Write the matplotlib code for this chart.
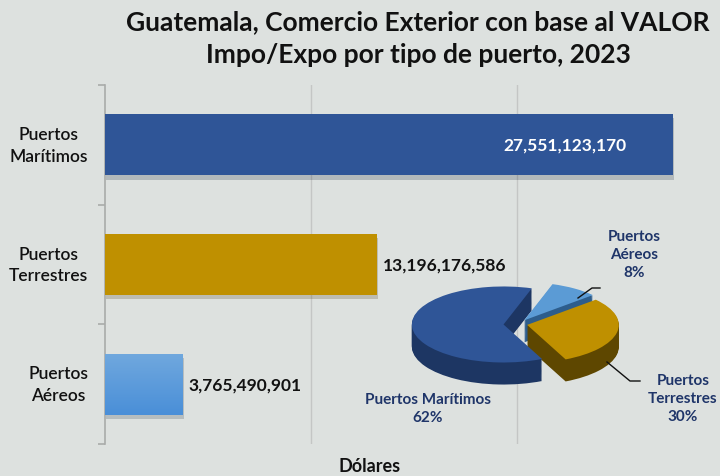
import numpy as np
import matplotlib
matplotlib.use("Agg")
import matplotlib.pyplot as plt
import matplotlib.patheffects as pe
from matplotlib.colors import LinearSegmentedColormap
from matplotlib.transforms import blended_transform_factory

# data
categorias = ["Puertos\nMarítimos", "Puertos\nTerrestres", "Puertos\nAéreos"]
valores = [27551123170, 13196176586, 3765490901]
pie_nombres = ["Puertos\nAéreos", "Puertos\nTerrestres", "Puertos Marítimos"]
pie_valores = [3765490901, 13196176586, 27551123170]

bg = "#dde1df"
col_bar = ["#2f5597", "#bf9000", "#5b9bd5"]
col_pie = ["#5b9bd5", "#bf9000", "#2f5597"]
col_side = ["#2d5d8c", "#5e4700", "#1d3663"]
navy = "#1f3569"

plt.rcParams["font.family"] = ["Lato", "DejaVu Sans"]

W, H = 720, 477
fig = plt.figure(figsize=(7.2, 4.77), dpi=100, facecolor=bg)

def px(x0, y0, x1, y1):
    return [x0 / W, 1 - y1 / H, (x1 - x0) / W, (y1 - y0) / H]

ax = fig.add_axes(px(105, 86, 720, 445))
ax.set_facecolor(bg)
ypos = np.arange(len(valores))
bars = ax.barh(ypos, valores, height=0.51, color=col_bar, zorder=3)
for b in bars:
    b.set_path_effects([pe.SimplePatchShadow(offset=(1, -3), alpha=0.2), pe.Normal()])

# gradient on the light blue bar
b = bars[2]
grad = np.linspace(0, 1, 50).reshape(-1, 1)
cm = LinearSegmentedColormap.from_list("g", ["#70a8de", "#4a8fd8"])
im = ax.imshow(grad, cmap=cm, aspect="auto", zorder=4,
               extent=[0, valores[2], b.get_y() + b.get_height(), b.get_y()])
im.set_clip_path(b)

ax.set_xlim(0, 615 / 206 * 1e10)
ax.set_ylim(2.5, -0.5)
for g in [1e10, 2e10]:
    ax.axvline(g, color="#c4c6c5", lw=1, zorder=1)
for s in ["top", "right", "bottom"]:
    ax.spines[s].set_visible(False)
ax.spines["left"].set_color("#a9abaa")
ax.spines["left"].set_linewidth(1.2)
ax.set_xticks([])
ax.set_yticks([-0.5, 0.5, 1.5, 2.5])
ax.set_yticklabels([])
ax.tick_params(axis="y", length=5, color="#a9abaa", width=1.2)

tr = blended_transform_factory(ax.transAxes, ax.transData)
for y, c in zip(ypos, categorias):
    ax.text(-17 / 615, y, c, transform=tr, ha="right", va="center", multialignment="center",
            fontsize=12.5, fontweight="semibold", color="#111111", linespacing=1.45)

ax.text(valores[0] - 0.223e10, 0, f"{valores[0]:,}", ha="right", va="center",
        fontsize=12.5, fontweight="bold", color="white", zorder=5)
for i in [1, 2]:
    ax.text(valores[i] + 0.03e10, i, f"{valores[i]:,}", ha="left", va="center",
            fontsize=12.5, fontweight="bold", color="#111111", zorder=5)

fig.text(418 / W, 1 - 22 / H, "Guatemala, Comercio Exterior con base al VALOR",
         ha="center", va="center", fontsize=19, fontweight="bold", color="#111111")
fig.text(418 / W, 1 - 55 / H, "Impo/Expo por tipo de puerto, 2023",
         ha="center", va="center", fontsize=19, fontweight="bold", color="#111111")
fig.text(370 / W, 1 - 467 / H, "Dólares", ha="center", va="center",
         fontsize=13, fontweight="bold", color="#111111")

# 3D-like pie
axp = fig.add_axes(px(410, 270, 630, 400))
start = 72
explode = [0.12, 0.1, 0.16]
depth = 0.58
for k in np.linspace(depth, 0, 25)[:-1]:
    axp.pie(pie_valores, colors=col_side, startangle=start, counterclock=False,
            explode=explode, center=(0, -k), radius=1, frame=True)
axp.pie(pie_valores, colors=col_pie, startangle=start, counterclock=False,
        explode=explode, center=(0, 0), radius=1, frame=True)
axp.set_xlim(-1.18, 1.22)
axp.set_ylim(-1.97, 1.45)
axp.set_aspect("auto")
axp.axis("off")

total = sum(pie_valores)
pct = [round(v / total * 100) for v in pie_valores]
fig.text(634 / W, 1 - 255 / H, f"{pie_nombres[0]}\n{pct[0]}%", ha="center", va="center",
         fontsize=11, fontweight="bold", color=navy, linespacing=1.35)
fig.text(683 / W, 1 - 399 / H, f"{pie_nombres[1]}\n{pct[1]}%", ha="center", va="center",
         fontsize=11, fontweight="bold", color=navy, linespacing=1.35)
fig.text(428 / W, 1 - 409 / H, f"{pie_nombres[2]}\n{pct[2]}%", ha="center", va="center",
         fontsize=11, fontweight="bold", color=navy, linespacing=1.35)

# leader lines
fig.add_artist(plt.Line2D([578 / W, 592 / W, 600 / W],
                          [1 - 299 / H, 1 - 289 / H, 1 - 289 / H], color="#111111", lw=1))
fig.add_artist(plt.Line2D([607 / W, 630 / W, 640 / W],
                          [1 - 363 / H, 1 - 382 / H, 1 - 382 / H], color="#111111", lw=1))

fig.savefig("out.png", dpi=100, facecolor=bg)
